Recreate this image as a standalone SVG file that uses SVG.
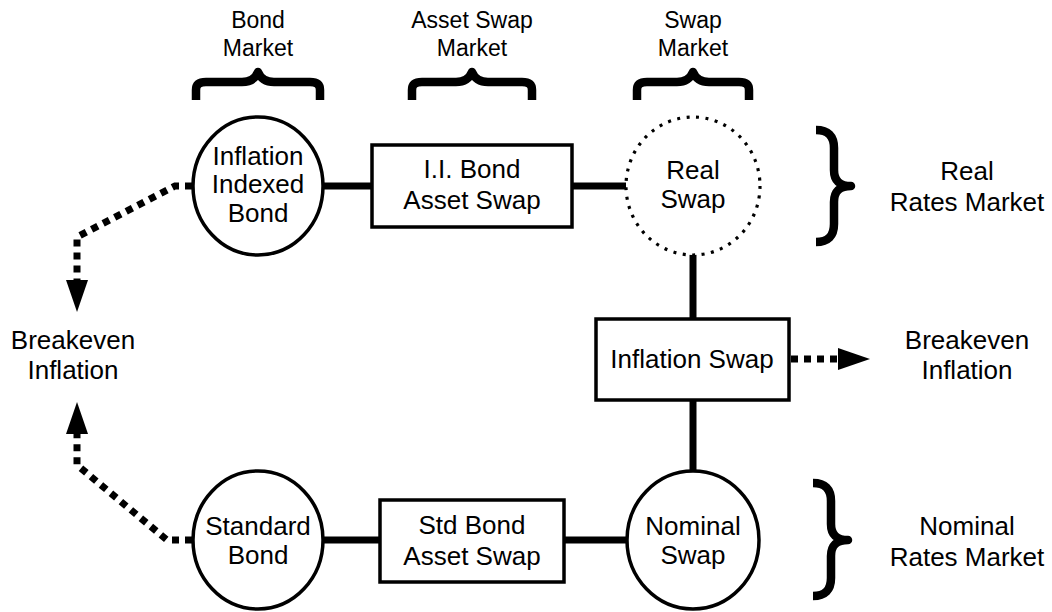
<svg xmlns="http://www.w3.org/2000/svg" width="1052" height="612" viewBox="0 0 1052 612">
  <style>
    text { font-family: "Liberation Sans", Arial, sans-serif; fill: #000; text-anchor: middle; }
    .t { font-size: 26px; }
    .s { font-size: 23px; }
    .node { fill: #fff; stroke: #000; stroke-width: 3.5; }
    .dotnode { fill: #fff; stroke: #000; stroke-width: 3.2; stroke-dasharray: 3 6.5; }
    .conn { fill: none; stroke: #000; stroke-width: 7; }
    .dash { fill: none; stroke: #000; stroke-width: 7; stroke-dasharray: 7 6; marker-end: url(#arr); }
    .brace { fill: none; stroke: #000; stroke-width: 8.5; stroke-linejoin: round; }
  </style>
  <defs>
    <marker id="arr" markerUnits="userSpaceOnUse" markerWidth="33" markerHeight="24" refX="0" refY="12" orient="auto">
      <path d="M0,1 L32,12 L0,23 z" fill="#000"/>
    </marker>
  </defs>
  <rect width="1052" height="612" fill="#fff"/>

  <g id="connectors">
    <line class="conn" x1="322" y1="186" x2="374" y2="186"/>
    <line class="conn" x1="570" y1="186" x2="626" y2="186"/>
    <line class="conn" x1="693" y1="254" x2="693" y2="321"/>
    <line class="conn" x1="693" y1="398" x2="693" y2="472"/>
    <line class="conn" x1="321" y1="540" x2="382" y2="540"/>
    <line class="conn" x1="562" y1="540" x2="629" y2="540"/>
    <path class="dash" d="M192,186 L175,186 L77,237 L77,280"/>
    <path class="dash" d="M192,540 L167,540 L77,465 L77,434"/>
    <path class="dash" d="M791,359 L838,359"/>
  </g>

  <g id="braces">
    <path class="brace" d="M196,100 L196,90 Q196,82 206,82 L242,82 Q254,82 258,72 Q262,82 274,82 L310,82 Q320,82 320,90 L320,100"/>
    <path class="brace" d="M412,100 L412,90 Q412,82 422,82 L456,82 Q468,82 472,72 Q476,82 488,82 L522,82 Q532,82 532,90 L532,100"/>
    <path class="brace" d="M637,100 L637,90 Q637,82 647,82 L677,82 Q689,82 693,72 Q697,82 709,82 L739,82 Q749,82 749,90 L749,100"/>
    <path class="brace" d="M816,130 Q834,130 834,148 L834,170 Q834,186 851,186 Q834,186 834,202 L834,224 Q834,242 816,242"/>
    <path class="brace" d="M813,483 Q831,483 831,501 L831,524 Q831,540 848,540 Q831,540 831,556 L831,578 Q831,596 813,596"/>
  </g>

  <g id="labels">
    <text class="s" x="258" y="28">Bond</text>
    <text class="s" x="258" y="56">Market</text>
    <text class="s" x="472" y="28">Asset Swap</text>
    <text class="s" x="472" y="56">Market</text>
    <text class="s" x="693" y="28">Swap</text>
    <text class="s" x="693" y="56">Market</text>
    <text class="t" x="967" y="180">Real</text>
    <text class="t" x="967" y="211">Rates Market</text>
    <text class="t" x="967" y="535">Nominal</text>
    <text class="t" x="967" y="566">Rates Market</text>
    <text class="t" x="73" y="349">Breakeven</text>
    <text class="t" x="73" y="379">Inflation</text>
    <text class="t" x="967" y="349">Breakeven</text>
    <text class="t" x="967" y="379">Inflation</text>
  </g>

  <g id="inflation-indexed-bond">
    <ellipse class="node" cx="258" cy="186" rx="65" ry="69"/>
    <text class="t" x="258" y="165">Inflation</text>
    <text class="t" x="258" y="193">Indexed</text>
    <text class="t" x="258" y="222">Bond</text>
  </g>
  <g id="ii-bond-asset-swap">
    <rect class="node" x="372" y="145" width="200" height="82"/>
    <text class="t" x="472" y="178">I.I. Bond</text>
    <text class="t" x="472" y="209">Asset Swap</text>
  </g>
  <g id="real-swap">
    <ellipse class="dotnode" cx="693" cy="186" rx="67" ry="69"/>
    <text class="t" x="693" y="179">Real</text>
    <text class="t" x="693" y="208">Swap</text>
  </g>
  <g id="inflation-swap">
    <rect class="node" x="596" y="319" width="193" height="81"/>
    <text class="t" x="692" y="368">Inflation Swap</text>
  </g>
  <g id="standard-bond">
    <ellipse class="node" cx="258" cy="540" rx="65" ry="69"/>
    <text class="t" x="258" y="535">Standard</text>
    <text class="t" x="258" y="564">Bond</text>
  </g>
  <g id="std-bond-asset-swap">
    <rect class="node" x="380" y="500" width="184" height="82"/>
    <text class="t" x="472" y="534">Std Bond</text>
    <text class="t" x="472" y="565">Asset Swap</text>
  </g>
  <g id="nominal-swap">
    <ellipse class="node" cx="693" cy="540" rx="66" ry="69"/>
    <text class="t" x="693" y="535">Nominal</text>
    <text class="t" x="693" y="564">Swap</text>
  </g>
</svg>
